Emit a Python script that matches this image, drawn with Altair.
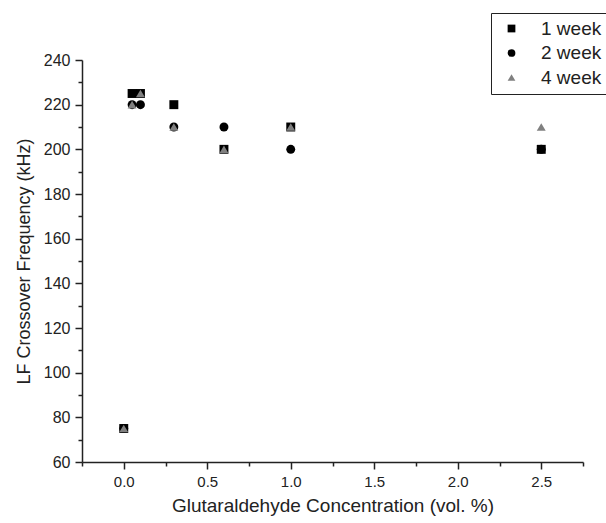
import altair as alt
import pandas as pd

conc = [0.0, 0.05, 0.1, 0.3, 0.6, 1.0, 2.5]
week1 = [75, 225, 225, 220, 200, 210, 200]
week2 = [75, 220, 220, 210, 210, 200, 200]
week4 = [75, 220, 225, 210, 200, 210, 210]
series = ["1 week", "2 week", "4 week"]

x_ticks = [-0.25, 0.0, 0.25, 0.5, 0.75, 1.0, 1.25, 1.5, 1.75, 2.0, 2.25, 2.5, 2.75]
y_ticks = [60, 70, 80, 90, 100, 110, 120, 130, 140, 150, 160, 170, 180, 190, 200, 210, 220, 230, 240]

rows = []
for name, vals in zip(series, [week1, week2, week4]):
    for c, v in zip(conc, vals):
        rows.append({"conc": c, "freq": v, "series": name})
df = pd.DataFrame(rows)

FONT = "Liberation Sans"
TXT = "#222222"

x_major_test = "abs(datum.value * 2 - round(datum.value * 2)) < 0.01"
y_major_test = "datum.value % 20 == 0"

xscale = alt.Scale(domain=[-0.25, 2.75], nice=False, zero=False)
yscale = alt.Scale(domain=[60, 240], nice=False, zero=False)

legend = alt.Legend(title=None, orient="none", legendX=409, legendY=-47,
                    strokeColor="#222", fillColor="white", padding=6,
                    symbolOffset=5, labelFontSize=19, labelFont=FONT, labelColor=TXT,
                    rowPadding=4.5, labelOffset=20, symbolSize=60, symbolStrokeWidth=0)

chart = alt.Chart(df).mark_point(filled=True, opacity=1, size=80).encode(
    x=alt.X("conc:Q", scale=xscale,
            axis=alt.Axis(orient="bottom", values=x_ticks,
                          labelExpr=x_major_test + " ? format(datum.value, '.1f') : ''",
                          title="Glutaraldehyde Concentration (vol. %)",
                          grid=False, ticks=True,
                          tickSize={"condition": {"test": x_major_test, "value": 7}, "value": 4},
                          tickColor="#222", tickOpacity=1,
                          tickWidth=1.5, domainWidth=1.5, domainColor="#222",
                          labelFontSize=15, titleFontSize=19, labelPadding=5,
                          labelFlush=False, labelOverlap=False,
                          titlePadding=7, labelColor=TXT, titleColor=TXT, labelFont=FONT, titleFont=FONT,
                          titleFontWeight="normal")),
    y=alt.Y("freq:Q", scale=yscale,
            axis=alt.Axis(orient="left", values=y_ticks,
                          labelExpr=y_major_test + " ? format(datum.value, 'd') : ''",
                          title="LF Crossover Frequency (kHz)",
                          grid=False, ticks=True,
                          tickSize={"condition": {"test": y_major_test, "value": 7}, "value": 4},
                          tickColor="#222", tickOpacity=1,
                          tickWidth=1.5, domainWidth=1.5, domainColor="#222",
                          labelFontSize=16, titleFontSize=18, labelPadding=5,
                          labelFlush=False, labelOverlap=False,
                          titlePadding=10, labelColor=TXT, titleColor=TXT, labelFont=FONT, titleFont=FONT,
                          titleFontWeight="normal")),
    color=alt.Color("series:N", scale=alt.Scale(domain=series, range=["#000000", "#000000", "#808080"]),
                    legend=legend),
    shape=alt.Shape("series:N", scale=alt.Scale(domain=series, range=["square", "circle", "triangle-up"]),
                    legend=legend),
).properties(
    width=501, height=402,
    padding={"left": 82, "top": 60, "right": 23, "bottom": 61},
    autosize=alt.AutoSizeParams(type="none"),
    background="white",
).configure_view(stroke=None)

chart.save("out.html", embed_options={"renderer": "svg", "actions": False})
